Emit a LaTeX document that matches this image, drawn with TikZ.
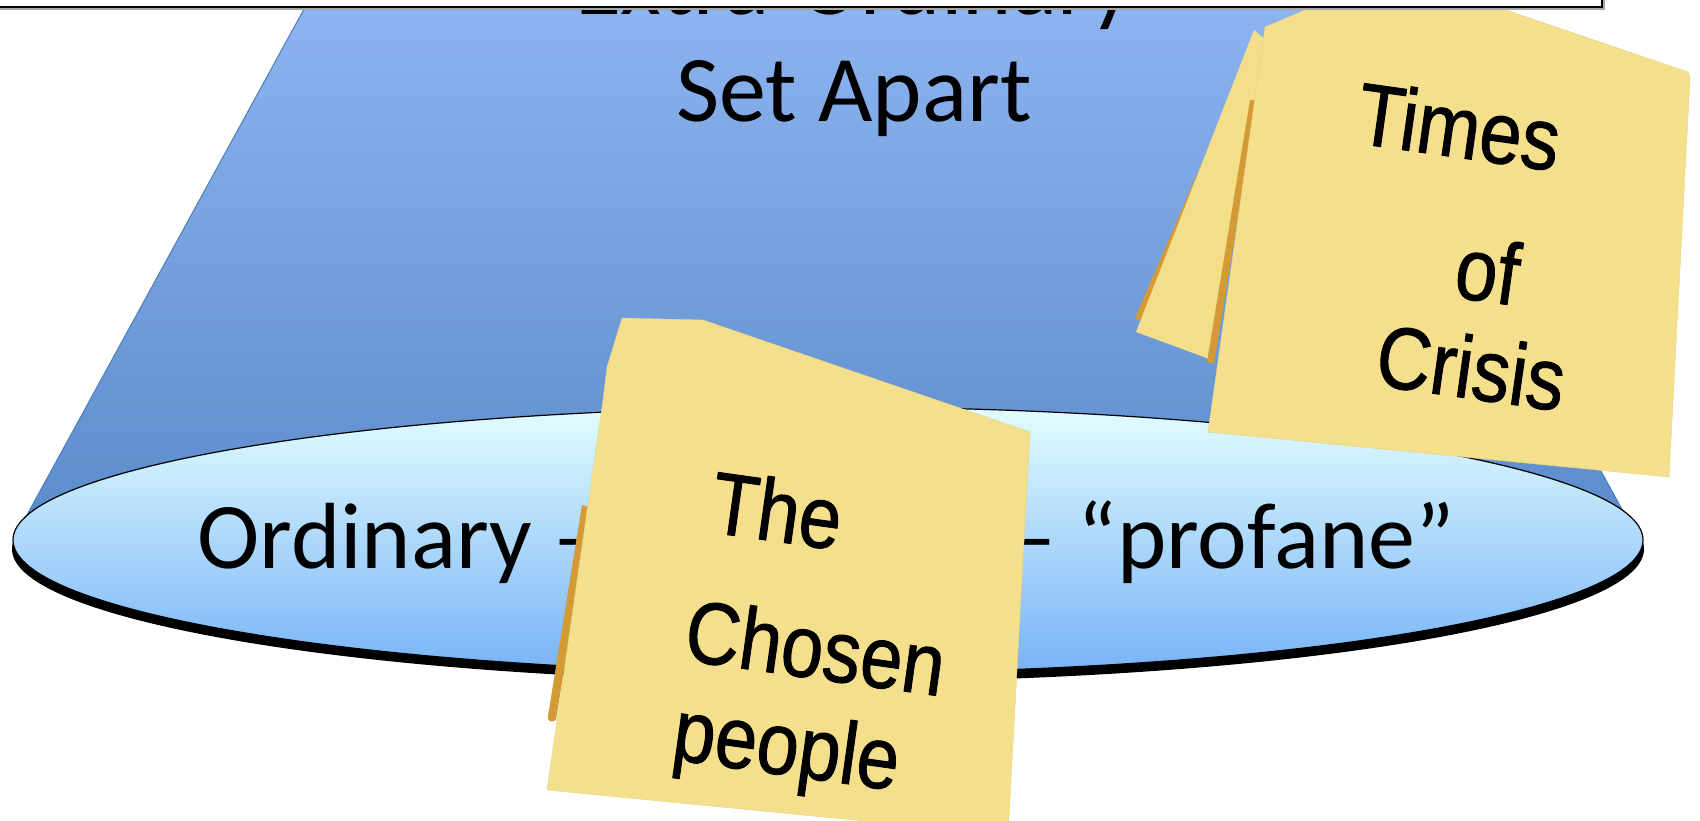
\documentclass[tikz,border=0pt]{standalone}
\usepackage{fontspec}
\setmainfont{Carlito}
\newfontfamily\notefont[FakeStretch=0.86,FakeBold=1.0]{Liberation Sans}
\definecolor{trapTop}{HTML}{8DB4F0}
\definecolor{trapBot}{HTML}{5B8BCB}
\definecolor{trapLine}{HTML}{4A7EBB}
\definecolor{ellTop}{HTML}{E2FDFF}
\definecolor{ellBot}{HTML}{78B3F6}
\definecolor{noteFill}{HTML}{F4E08C}
\definecolor{noteBack}{HTML}{F3DE8A}
\definecolor{noteEdge}{HTML}{D49A35}
\begin{document}
\begin{tikzpicture}[x=1pt,y=-1pt,
  bigtext/.style={font=\fontsize{94}{110}\selectfont, inner sep=0pt, anchor=base},
  notetext/.style={font=\notefont\fontsize{88}{100}\selectfont, inner sep=0pt, anchor=base west, rotate=-8},
  notesheet/.style={fill=noteFill, draw=noteFill!94!black, line width=0.4pt, line join=round},
  edgesheet/.style={fill=noteEdge},
  backsheet/.style={fill=noteBack},
]
\useasboundingbox (0,0) rectangle (1700,821);
\fill[white] (0,0) rectangle (1700,821);

% blue trapezoid
\path[top color=trapTop, bottom color=trapBot, draw=trapLine, line width=1pt]
  (309,0) -- (1343,0) -- (1636,535) -- (16,535) -- cycle;
\node[bigtext] (extra) at (854,15) {Extra-Ordinary};
\node[bigtext] (setapart) at (854,122) {Set Apart};

% ellipse with dark rim
\fill[black] (828,549) ellipse [x radius=816, y radius=133];
\path[top color=ellTop, bottom color=ellBot, draw=black, line width=1.2pt]
  (828,540) ellipse [x radius=815, y radius=133];
\node[bigtext, anchor=base west] (ordl) at (197,568) {Ordinary –};
\node[bigtext, anchor=base east] (ordr) at (1455,568) {– “profane”};

% Times of Crisis note
\path[edgesheet] (1214,135) -- (1135,318) -- (1145,322) -- (1222,135) -- cycle;
\path[backsheet] (1254,30) -- (1136,332) -- (1212,360) -- (1266,40) -- cycle;
\path[edgesheet] (1250,100) -- (1207,362) -- (1214,364) -- (1257,100) -- cycle;
\path[notesheet] (1265,27) -- (1310,8) -- (1500,8) -- (1688,72) -- (1690,78) -- (1669,477) -- (1208,432) -- cycle;
\node[notetext] (times) at (1354,143) {Times};
\node[notetext] (of) at (1452,297) {of};
\node[notetext] (crisis) at (1373,385) {Crisis};

% The Chosen people note
\path[edgesheet] (582,505) -- (548,716) .. controls (547,722) and (552,723) .. (556,720) -- (590,507) -- cycle;
\path[notesheet] (622,318) -- (703,320) -- (1030,432) -- (1008,835) -- (547,790) -- (603,400) -- (607,367) -- cycle;
\node[notetext] (the) at (708,532) {The};
\node[notetext] (chosen) at (682,660) {Chosen};
\node[notetext] (people) at (670,759) {people};

% top box
\fill[black!35] (-5,-5) rectangle (1605,10);
\draw[fill=white, line width=1.2pt] (-5,-5) rectangle (1602,7);
\end{tikzpicture}
\end{document}
